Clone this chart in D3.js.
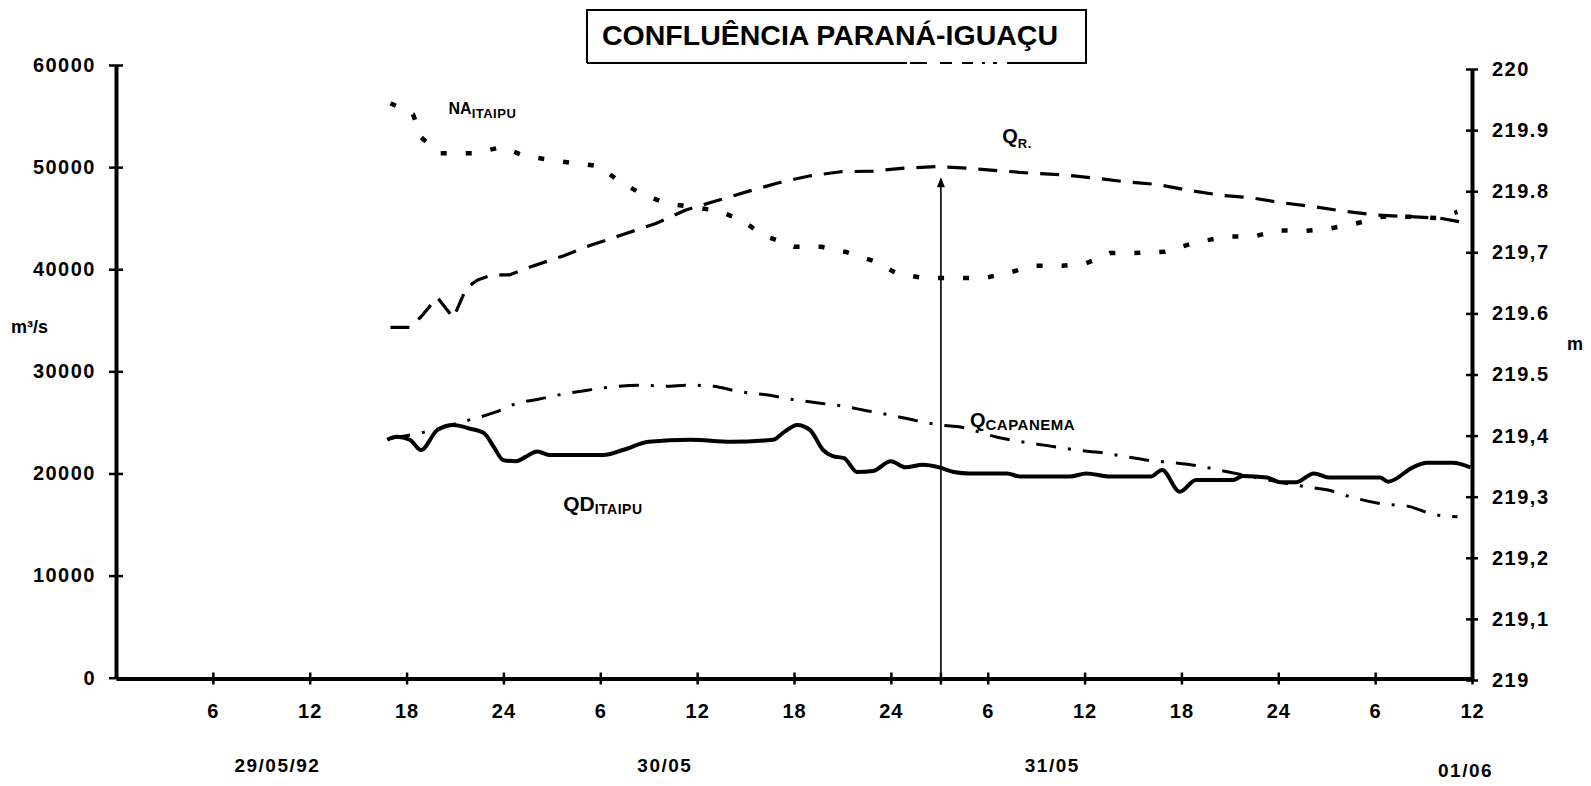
<!DOCTYPE html>
<html>
<head>
<meta charset="utf-8">
<script src="https://cdn.jsdelivr.net/npm/d3@7"></script>
<style>
  body { margin: 0; background: #fff; }
  svg text { font-family: Arial, "Liberation Sans", sans-serif; font-weight: bold; fill: #000; }
</style>
</head>
<body>
<div id="chart"></div>
<script>
const layout = {
    width: 1591,
    height: 786,
    plotLeft: 116,
    plotRight: 1472,
    leftTop: 65,
    leftBottom: 677.7,
    rightTop: 69,
    rightBottom: 680,
    axisY: 678.5
};

// hours counted from 00h of 29/05/92
const xTickHours = [6, 12, 18, 24, 30, 36, 42, 48, 54, 60, 66, 72, 78, 84];
const xTickLabels = ["6", "12", "18", "24", "6", "12", "18", "24", "6", "12", "18", "24", "6", "12"];
const dayLabels = ["29/05/92", "30/05", "31/05", "01/06"];
const dayLabelHours = [10, 34, 58, 83.6];

const leftTicks = [0, 10000, 20000, 30000, 40000, 50000, 60000];
const rightTicks = [219, 219.1, 219.2, 219.3, 219.4, 219.5, 219.6, 219.7, 219.8, 219.9, 220];
const rightTickLabels = ["219", "219,1", "219,2", "219,3", "219,4", "219.5", "219.6", "219,7", "219.8", "219.9", "220"];

// NA ITAIPU (m, right axis)
const naHours = [17.0, 18.4, 18.9, 20.1, 22.1, 23.9, 25.3, 26.9, 28.4, 29.9, 31.2, 32.6, 34.1, 37.3, 38.8, 40.1, 42.0, 43.7, 45.3, 46.9, 48.5, 50.1, 52.0, 53.8, 55.5, 56.9, 58.6, 60.1, 61.6, 63.1, 65.0, 67.0, 68.9, 70.5, 72.0, 73.7, 75.2, 76.8, 78.4, 80.2, 81.9, 83.1];
const naLevel = [219.944, 219.926, 219.888, 219.862, 219.862, 219.872, 219.858, 219.851, 219.846, 219.841, 219.816, 219.795, 219.780, 219.768, 219.752, 219.728, 219.709, 219.709, 219.700, 219.686, 219.664, 219.658, 219.658, 219.658, 219.668, 219.678, 219.678, 219.682, 219.699, 219.699, 219.701, 219.717, 219.726, 219.726, 219.736, 219.735, 219.739, 219.747, 219.758, 219.758, 219.756, 219.766];

// Q R. (m3/s)
const qrHours = [17.0, 18.2, 18.9, 19.9, 20.9, 21.7, 22.4, 23.3, 24.4, 25.7, 27.7, 29.4, 31.5, 33.4, 35.3, 37.2, 39.1, 41.0, 43.0, 44.9, 46.9, 48.8, 50.8, 52.7, 54.7, 56.7, 58.6, 60.5, 62.6, 64.5, 66.4, 68.4, 70.3, 72.3, 74.3, 76.2, 78.1, 80.2, 82.0, 83.6];
const qrFlow = [34300, 34300, 35350, 37250, 35250, 38150, 38950, 39450, 39450, 40250, 41300, 42350, 43450, 44450, 45800, 46700, 47600, 48450, 49150, 49550, 49600, 49900, 50050, 49900, 49650, 49400, 49250, 48950, 48550, 48300, 47750, 47250, 47000, 46500, 46100, 45650, 45300, 45150, 45000, 44550];

// Q CAPANEMA (m3/s)
const capHours = [17.0, 18.8, 21.9, 23.5, 24.8, 26.1, 27.6, 29.2, 30.3, 32.5, 34.1, 35.4, 37.0, 38.5, 40.5, 41.9, 43.5, 45.0, 46.5, 48.0, 49.5, 51.0, 52.1, 54.6, 56.1, 57.6, 59.5, 61.0, 62.5, 63.9, 65.5, 67.0, 68.6, 70.3, 73.7, 75.0, 76.6, 78.5, 80.0, 81.6, 83.1];
const capFlow = [23450, 23950, 25250, 26000, 26850, 27250, 27750, 28150, 28400, 28650, 28550, 28650, 28550, 28050, 27650, 27250, 26900, 26600, 26150, 25700, 25200, 24750, 24600, 23550, 23100, 22750, 22300, 22050, 21650, 21300, 21050, 20750, 20250, 19700, 18700, 18400, 17650, 17000, 16800, 16000, 15750];

// QD ITAIPU (m3/s)
const qdHours = [16.8, 17.4, 18.2, 18.9, 19.9, 20.9, 21.9, 22.8, 23.4, 24.0, 24.8, 25.4, 26.1, 26.9, 30.2, 31.4, 33.0, 35.6, 38.1, 40.7, 41.3, 42.2, 43.0, 43.8, 44.4, 45.1, 45.9, 46.9, 48.0, 48.9, 50.0, 51.0, 51.9, 52.9, 55.2, 56.0, 59.1, 60.1, 61.6, 64.1, 64.8, 65.9, 66.9, 69.2, 69.8, 71.3, 72.1, 73.1, 74.2, 75.2, 78.3, 78.8, 80.4, 81.2, 82.8, 83.9];
const qdFlow = [23300, 23600, 23300, 22300, 24250, 24750, 24400, 23950, 22600, 21300, 21200, 21650, 22150, 21800, 21800, 22300, 23100, 23300, 23100, 23300, 23950, 24750, 24250, 22300, 21700, 21500, 20150, 20250, 21200, 20600, 20850, 20600, 20150, 20000, 20000, 19700, 19700, 20000, 19700, 19700, 20350, 18200, 19350, 19350, 19750, 19600, 19150, 19150, 20000, 19600, 19600, 19200, 20650, 21050, 21050, 20600];

// vertical marker (present time)
const markerHour = 51.1;
const markerTopFlow = 49000;

const svg = d3.select("#chart").append("svg")
    .attr("width", layout.width)
    .attr("height", layout.height)
    .attr("viewBox", [0, 0, layout.width, layout.height].join(" "));

svg.append("rect").attr("width", layout.width).attr("height", layout.height).attr("fill", "#fff");

const x = d3.scaleLinear().domain([0, 84]).range([layout.plotLeft, layout.plotRight]);
const yL = d3.scaleLinear().domain([0, 60000]).range([layout.leftBottom, layout.leftTop]);
const yR = d3.scaleLinear().domain([219, 220]).range([layout.rightBottom, layout.rightTop]);

// title box (bottom edge is broken in the scan)
svg.append("path")
    .attr("d", "M587,63V10H1086V63H1007")
    .attr("fill", "none").attr("stroke", "#000").attr("stroke-width", 2);
svg.append("path")
    .attr("d", "M587,63H1007")
    .attr("fill", "none").attr("stroke", "#000").attr("stroke-width", 2)
    .attr("stroke-dasharray", "320,3,17,13,12,10,11,9,3,8,4,10");
svg.append("text")
    .attr("x", 602).attr("y", 45)
    .attr("font-size", 28)
    .attr("textLength", 456)
    .attr("lengthAdjust", "spacingAndGlyphs")
    .text("CONFLUÊNCIA PARANÁ-IGUAÇU");

// left axis
let leftAxis = svg.append("g")
    .attr("transform", `translate(${layout.plotLeft},0)`)
    .call(d3.axisLeft(yL).tickValues(leftTicks).tickFormat(d3.format("d")).tickSizeOuter(0));
leftAxis.select(".domain").attr("stroke", "#000").attr("stroke-width", 4);
leftAxis.selectAll(".tick line").attr("x1", -7).attr("x2", 7).attr("stroke-width", 2.5);
leftAxis.selectAll(".tick text").attr("x", -20).attr("font-size", 20).attr("letter-spacing", 1.5).attr("font-family", null);

// right axis
let rightAxis = svg.append("g")
    .attr("transform", `translate(${layout.plotRight},0)`)
    .call(d3.axisRight(yR).tickValues(rightTicks).tickFormat((d, i) => rightTickLabels[i]).tickSizeOuter(0));
rightAxis.select(".domain").attr("stroke", "#000").attr("stroke-width", 4);
rightAxis.selectAll(".tick line").attr("x1", -6).attr("x2", 6).attr("stroke-width", 2.5);
rightAxis.selectAll(".tick text").attr("x", 20).attr("font-size", 20).attr("letter-spacing", 1.5).attr("font-family", null);

// x axis
let xAxis = svg.append("g")
    .attr("transform", `translate(0,${layout.axisY})`)
    .call(d3.axisBottom(x).tickValues(xTickHours).tickFormat((d, i) => xTickLabels[i]).tickSizeOuter(0));
xAxis.select(".domain").attr("stroke", "#000").attr("stroke-width", 4);
xAxis.selectAll(".tick line").attr("y1", -6).attr("y2", 6).attr("stroke-width", 2.5);
xAxis.selectAll(".tick text").attr("y", 39).attr("dy", 0).attr("font-size", 20).attr("letter-spacing", 1).attr("font-family", null);
svg.selectAll(".tick text").attr("font-weight", "bold");

// day labels
svg.selectAll(".daylabel")
    .data(dayLabels)
    .enter().append("text")
    .attr("class", "daylabel")
    .attr("x", (d, i) => x(dayLabelHours[i]))
    .attr("y", (d, i) => i === 3 ? 777 : 772)
    .attr("text-anchor", "middle")
    .attr("font-size", 19)
    .attr("letter-spacing", 1.5)
    .text(d => d);

// unit labels
svg.append("text").attr("x", 11).attr("y", 333).attr("font-size", 18).text("m³/s");
svg.append("text").attr("x", 1567).attr("y", 350).attr("font-size", 18).text("m");

// vertical marker with arrow
const mx = x(markerHour);
svg.append("line")
    .attr("x1", mx).attr("x2", mx)
    .attr("y1", yL(0)).attr("y2", yL(markerTopFlow) + 4)
    .attr("stroke", "#000").attr("stroke-width", 1.6);
svg.append("path")
    .attr("d", `M${mx},${yL(markerTopFlow)}l-4,10h8z`)
    .attr("fill", "#000");
svg.append("line")
    .attr("x1", mx).attr("x2", mx)
    .attr("y1", layout.axisY - 6).attr("y2", layout.axisY + 6)
    .attr("stroke", "#000").attr("stroke-width", 2.5);

// series
const series = [
    { hours: naHours, values: naLevel, y: yR, width: 4.5, dash: "6,19", curve: d3.curveLinear },
    { hours: qrHours, values: qrFlow, y: yL, width: 3.2, dash: "19,12", curve: d3.curveLinear },
    { hours: capHours, values: capFlow, y: yL, width: 3, dash: "20,12,3,12", curve: d3.curveMonotoneX },
    { hours: qdHours, values: qdFlow, y: yL, width: 4, dash: null, curve: d3.curveMonotoneX }
];

series.forEach(s => {
    const line = d3.line()
        .x((d, i) => x(s.hours[i]))
        .y(d => s.y(d))
        .curve(s.curve);
    svg.append("path")
        .datum(s.values)
        .attr("d", line)
        .attr("fill", "none")
        .attr("stroke", "#000")
        .attr("stroke-width", s.width)
        .attr("stroke-dasharray", s.dash)
        .attr("stroke-linejoin", "round");
});

// series labels (main letters + subscript)
function seriesLabel(px, py, main, sub, mainSize, subSize, subShift) {
    const t = svg.append("text").attr("x", px).attr("y", py);
    t.append("tspan").attr("font-size", mainSize).text(main);
    t.append("tspan").attr("font-size", subSize).attr("dy", subShift).attr("letter-spacing", 0.5).text(sub);
}
seriesLabel(x(20.6), yR(219.926), "NA", "ITAIPU", 16, 13, 4);
seriesLabel(x(54.9), yL(52400), "Q", "R.", 20, 13, 5);
seriesLabel(x(52.9), yL(24550), "Q", "CAPANEMA", 20, 15, 3);
seriesLabel(x(27.7), yL(16330), "QD", "ITAIPU", 21, 14, 3);
</script>
</body>
</html>
